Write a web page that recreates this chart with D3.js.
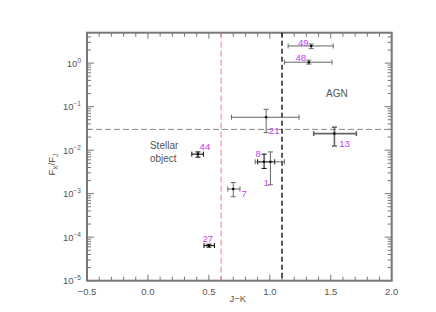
<!DOCTYPE html>
<html lang="en">
<head>
<meta charset="utf-8">
<script src="https://d3js.org/d3.v7.min.js"></script>
<style>
  body { margin: 0; background: #fff; }
  text { font-family: "Liberation Sans", Arial, sans-serif; fill: #555; }
</style>
</head>
<body>
<svg id="chart" width="436" height="312"></svg>
<script>
// source ids and measured values
const ids = ["49", "48", "21", "13", "44", "8", "1", "7", "27"];
const jk = [1.34, 1.32, 0.97, 1.53, 0.41, 0.953, 1.005, 0.70, 0.50];
const jkLo = [1.15, 1.12, 0.685, 1.36, 0.36, 0.90, 0.88, 0.655, 0.46];
const jkHi = [1.52, 1.51, 1.24, 1.71, 0.455, 1.04, 1.12, 0.755, 0.545];
const ratio = [2.48, 1.05, 0.057, 0.024, 0.0081, 0.0054, 0.0054, 0.00128, 6.4e-5];
const ratioLo = [2.15, 0.95, 0.0252, 0.0125, 0.0069, 0.0038, 0.0016, 0.00085, 5.9e-5];
const ratioHi = [2.75, 1.17, 0.087, 0.0337, 0.0091, 0.0081, 0.0091, 0.0018, 6.9e-5];
const dark = [false, false, false, false, true, true, false, false, true];

const xTicks = [-0.5, 0.0, 0.5, 1.0, 1.5, 2.0];
const yTickExp = [-5, -4, -3, -2, -1, 0];

const stellarCut = 0.6, agnCut = 1.1, ratioCut = 0.03;

// label placement (pixels, relative to point)
const labelOff = [[-8, -3], [-8, -4], [8, 13], [10, 10], [7, -7], [-6, -8], [-4, 21], [11, 5], [-1, -7]];

const W = 436, H = 312;
const m = { top: 32.7, right: 44.3, bottom: 31.3, left: 87 };
const iw = W - m.left - m.right, ih = H - m.top - m.bottom;

const svg = d3.select("#chart");
const g = svg.append("g").attr("transform", `translate(${m.left},${m.top})`);

const x = d3.scaleLinear().domain([-0.5, 2.0]).range([0, iw]);
const y = d3.scaleLog().domain([1e-5, 5]).range([ih, 0]);

const axisCol = "#777";
const purple = "#c040f0";

// minor / major tick values
const xMinor = d3.range(-5, 21).map(d => d / 10);
const yMinor = [];
for (let e = -5; e <= 0; e++) for (let k = 2; k <= 9; k++) if (k * Math.pow(10, e) <= 5) yMinor.push(k * Math.pow(10, e));

// x ticks top & bottom
const tk = g.append("g").attr("stroke", axisCol).attr("stroke-width", 1);
xMinor.forEach(v => {
  const major = Math.abs(v * 2 - Math.round(v * 2)) < 1e-6;
  const len = major ? 6 : 4;
  tk.append("line").attr("x1", x(v)).attr("x2", x(v)).attr("y1", ih).attr("y2", ih - len);
  tk.append("line").attr("x1", x(v)).attr("x2", x(v)).attr("y1", 0).attr("y2", len);
});
yTickExp.forEach(e => {
  const v = Math.pow(10, e);
  tk.append("line").attr("x1", 0).attr("x2", 7).attr("y1", y(v)).attr("y2", y(v));
  tk.append("line").attr("x1", iw).attr("x2", iw - 7).attr("y1", y(v)).attr("y2", y(v));
});
yMinor.forEach(v => {
  tk.append("line").attr("x1", 0).attr("x2", 4).attr("y1", y(v)).attr("y2", y(v));
  tk.append("line").attr("x1", iw).attr("x2", iw - 4).attr("y1", y(v)).attr("y2", y(v));
});

// frame
g.append("rect").attr("x", 0).attr("y", 0).attr("width", iw).attr("height", ih)
  .attr("fill", "none").attr("stroke", axisCol).attr("stroke-width", 2);

// tick labels
g.selectAll(".xl").data(xTicks).join("text")
  .attr("x", d => x(d)).attr("y", ih + 14)
  .attr("text-anchor", "middle").attr("font-size", 9.5)
  .text(d => d3.format(".1f")(d).replace("-", "\u2212"));

const yl = g.selectAll(".yl").data(yTickExp).join("text")
  .attr("x", -6).attr("y", d => y(Math.pow(10, d)) + 3.5)
  .attr("text-anchor", "end").attr("font-size", 9.5);
yl.append("tspan").text("10");
yl.append("tspan").attr("dy", -4).attr("font-size", 6.5).text(d => String(d).replace("-", "\u2212"));

// axis titles
svg.append("text").attr("x", m.left + x(1.0) - 32).attr("y", 302)
  .attr("text-anchor", "middle").attr("font-size", 9.5).text("J\u2212K");
const yt = svg.append("text")
  .attr("transform", `translate(55,${m.top + ih / 2 + 8}) rotate(-90)`)
  .attr("text-anchor", "middle").attr("font-size", 9.5);
yt.append("tspan").text("F");
yt.append("tspan").attr("dy", 2.5).attr("font-size", 6.5).text("X");
yt.append("tspan").attr("dy", -2.5).text("/F");
yt.append("tspan").attr("dy", 2.5).attr("font-size", 6.5).text("J");

// dividing lines
g.append("line").attr("x1", 0).attr("x2", iw).attr("y1", y(ratioCut)).attr("y2", y(ratioCut))
  .attr("stroke", "#888").attr("stroke-dasharray", "6,3");
g.append("line").attr("x1", x(stellarCut)).attr("x2", x(stellarCut)).attr("y1", 0).attr("y2", ih)
  .attr("stroke", "#ff6f91").attr("stroke-dasharray", "6,3");
g.append("line").attr("x1", x(agnCut)).attr("x2", x(agnCut)).attr("y1", 0).attr("y2", ih)
  .attr("stroke", "#000").attr("stroke-width", 1.3).attr("stroke-dasharray", "5,3");

// region labels
g.append("text").attr("x", x(1.55)).attr("y", y(0.17)).attr("text-anchor", "middle")
  .attr("font-size", 10).text("AGN");
const so = g.append("text").attr("x", x(0.0) + 2).attr("y", y(0.0105)).attr("font-size", 10);
so.append("tspan").text("Stellar");
so.append("tspan").attr("x", x(0.0) + 2).attr("dy", 12.3).text("object");

// error bars
const idx = d3.range(ids.length);
const eb = g.append("g");
const cap = 2.5;
idx.forEach(i => {
  const col = dark[i] ? "#000" : "#666";
  const sw = ids[i] === "13" ? 1.6 : 1;
  const cx = x(jk[i]), cy = y(ratio[i]);
  const e = eb.append("g").attr("stroke", col).attr("stroke-width", sw);
  e.append("line").attr("x1", x(jkLo[i])).attr("x2", x(jkHi[i])).attr("y1", cy).attr("y2", cy);
  e.append("line").attr("x1", x(jkLo[i])).attr("x2", x(jkLo[i])).attr("y1", cy - cap).attr("y2", cy + cap);
  e.append("line").attr("x1", x(jkHi[i])).attr("x2", x(jkHi[i])).attr("y1", cy - cap).attr("y2", cy + cap);
  e.append("line").attr("x1", cx).attr("x2", cx).attr("y1", y(ratioLo[i])).attr("y2", y(ratioHi[i]));
  e.append("line").attr("x1", cx - cap).attr("x2", cx + cap).attr("y1", y(ratioLo[i])).attr("y2", y(ratioLo[i]));
  e.append("line").attr("x1", cx - cap).attr("x2", cx + cap).attr("y1", y(ratioHi[i])).attr("y2", y(ratioHi[i]));
});
g.selectAll(".pt").data(idx).join("circle")
  .attr("cx", i => x(jk[i])).attr("cy", i => y(ratio[i])).attr("r", 1.3).attr("fill", "#000");

// point labels
g.selectAll(".lab").data(idx).join("text")
  .attr("x", i => x(jk[i]) + labelOff[i][0]).attr("y", i => y(ratio[i]) + labelOff[i][1] + 3.3)
  .attr("text-anchor", "middle").attr("font-size", 9.5).style("fill", purple)
  .text(i => ids[i]);
</script>
</body>
</html>
